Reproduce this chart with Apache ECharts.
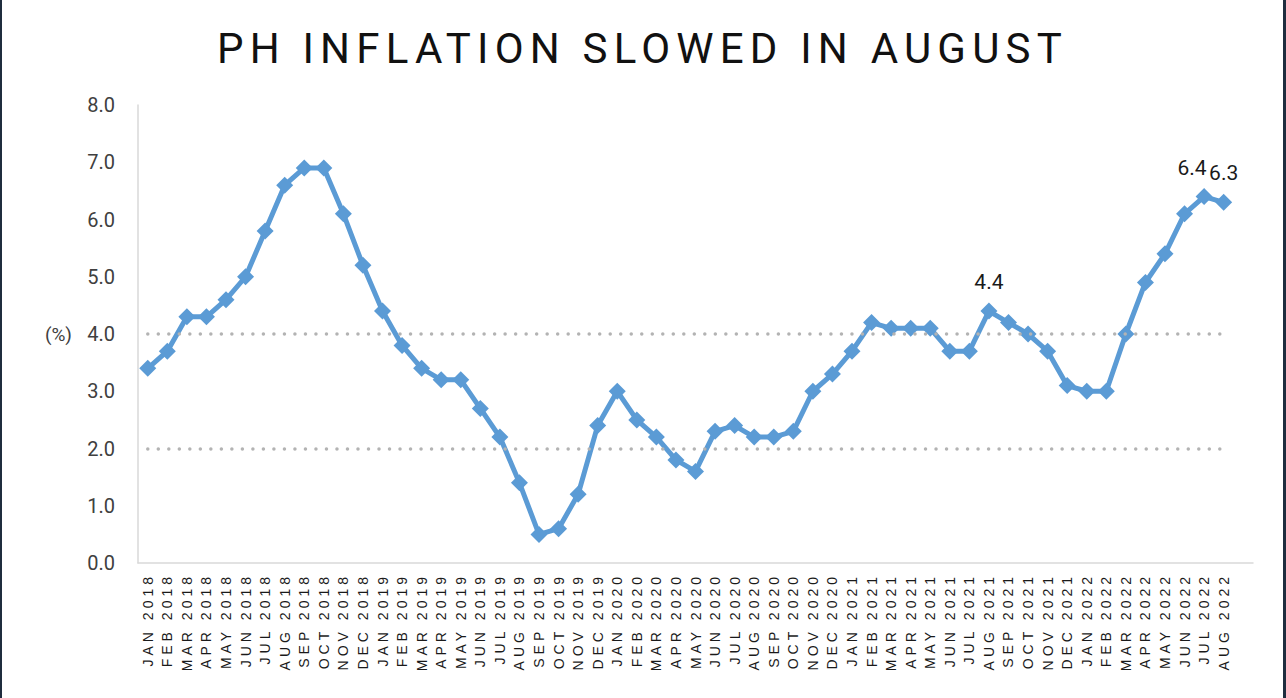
<!DOCTYPE html>
<html>
<head>
<meta charset="utf-8">
<script src="https://cdn.jsdelivr.net/npm/echarts@6/dist/echarts.min.js"></script>
<style>
  html, body { margin: 0; padding: 0; background: #1f2d3e; }
  #chart { position: absolute; left: 2px; top: 0; width: 1281px; height: 698px; background: #ffffff; }
  #chart text[style*="Liberation Sans"] { letter-spacing: 4px; }
  #chart text[style*="42px"] { letter-spacing: 6.2px; }
</style>
</head>
<body>
<div id="chart"></div>
<script>
const categories = [
  'JAN 2018','FEB 2018','MAR 2018','APR 2018','MAY 2018','JUN 2018','JUL 2018','AUG 2018','SEP 2018','OCT 2018','NOV 2018','DEC 2018',
  'JAN 2019','FEB 2019','MAR 2019','APR 2019','MAY 2019','JUN 2019','JUL 2019','AUG 2019','SEP 2019','OCT 2019','NOV 2019','DEC 2019',
  'JAN 2020','FEB 2020','MAR 2020','APR 2020','MAY 2020','JUN 2020','JUL 2020','AUG 2020','SEP 2020','OCT 2020','NOV 2020','DEC 2020',
  'JAN 2021','FEB 2021','MAR 2021','APR 2021','MAY 2021','JUN 2021','JUL 2021','AUG 2021','SEP 2021','OCT 2021','NOV 2021','DEC 2021',
  'JAN 2022','FEB 2022','MAR 2022','APR 2022','MAY 2022','JUN 2022','JUL 2022','AUG 2022'
];
const inflation = [
  3.4, 3.7, 4.3, 4.3, 4.6, 5.0, 5.8, 6.6, 6.9, 6.9, 6.1, 5.2,
  4.4, 3.8, 3.4, 3.2, 3.2, 2.7, 2.2, 1.4, 0.5, 0.6, 1.2, 2.4,
  3.0, 2.5, 2.2, 1.8, 1.6, 2.3, 2.4, 2.2, 2.2, 2.3, 3.0, 3.3,
  3.7, 4.2, 4.1, 4.1, 4.1, 3.7, 3.7, 4.4, 4.2, 4.0, 3.7, 3.1,
  3.0, 3.0, 4.0, 4.9, 5.4, 6.1, 6.4, 6.3
];
const labelled = ['AUG 2021', 'JUL 2022', 'AUG 2022'];
const targetBand = [2, 4];
const yTicks = [0, 1, 2, 3, 4, 5, 6, 7, 8];

const chart = echarts.init(document.getElementById('chart'), null, { renderer: 'svg' });

const indices = categories.map((c, i) => i);
const seriesData = inflation.map((v, i) => {
  if (labelled.includes(categories[i])) {
    return {
      value: [i, v],
      label: { show: true, offset: categories[i] === 'JUL 2022' ? [-12, 0] : [0, 0] }
    };
  }
  return [i, v];
});

const option = {
  animation: false,
  title: {
    text: 'PH INFLATION SLOWED IN AUGUST',
    left: 'center',
    top: 22,
    textStyle: { fontFamily: 'Roboto', fontSize: 42, fontWeight: 'normal', color: '#111111' }
  },
  grid: { left: 136, right: 30, top: 105, bottom: 135, containLabel: false },
  xAxis: {
    type: 'value',
    min: -0.5,
    max: 56.5,
    splitLine: { show: false },
    axisTick: { show: false },
    axisLine: { show: true, onZero: false, lineStyle: { color: '#d9d9d9', width: 1.5 } },
    axisLabel: {
      customValues: indices,
      rotate: 90,
      margin: 10,
      fontFamily: 'Liberation Sans',
      fontSize: 14,
      color: '#1a1a1a',
      formatter: v => categories[v]
    }
  },
  yAxis: {
    type: 'value',
    min: 0,
    max: 8,
    interval: 1,
    name: '(%)',
    nameLocation: 'middle',
    nameRotate: 0,
    nameGap: 66,
    nameTextStyle: { fontFamily: 'Roboto', fontSize: 19, color: '#404040' },
    splitLine: { show: false },
    axisTick: { show: false },
    axisLine: { show: true, onZero: false, lineStyle: { color: '#d9d9d9', width: 1.5 } },
    axisLabel: {
      margin: 23,
      fontFamily: 'Roboto',
      fontSize: 20,
      color: '#404040',
      customValues: yTicks,
      formatter: v => v.toFixed(1)
    }
  },
  series: [
    {
      type: 'line',
      name: 'target band',
      data: [],
      silent: true,
      markLine: {
        silent: true,
        symbol: 'none',
        label: { show: false },
        lineStyle: { color: '#b3b3b3', width: 3.5, type: [0.01, 10.5], cap: 'round' },
        data: targetBand.map(t => [{ coord: [0, t] }, { coord: [categories.length - 1, t] }])
      }
    },
    {
      type: 'line',
      name: 'Inflation rate',
      data: seriesData,
      symbol: 'diamond',
      symbolSize: 17,
      lineStyle: { color: '#5b9bd5', width: 5 },
      itemStyle: { color: '#5b9bd5' },
      label: {
        show: false,
        position: 'top',
        distance: 10,
        fontFamily: 'Roboto',
        fontSize: 21,
        color: '#1a1a1a',
        formatter: p => p.value[1].toFixed(1)
      }
    }
  ]
};
chart.setOption(option);
</script>
</body>
</html>
